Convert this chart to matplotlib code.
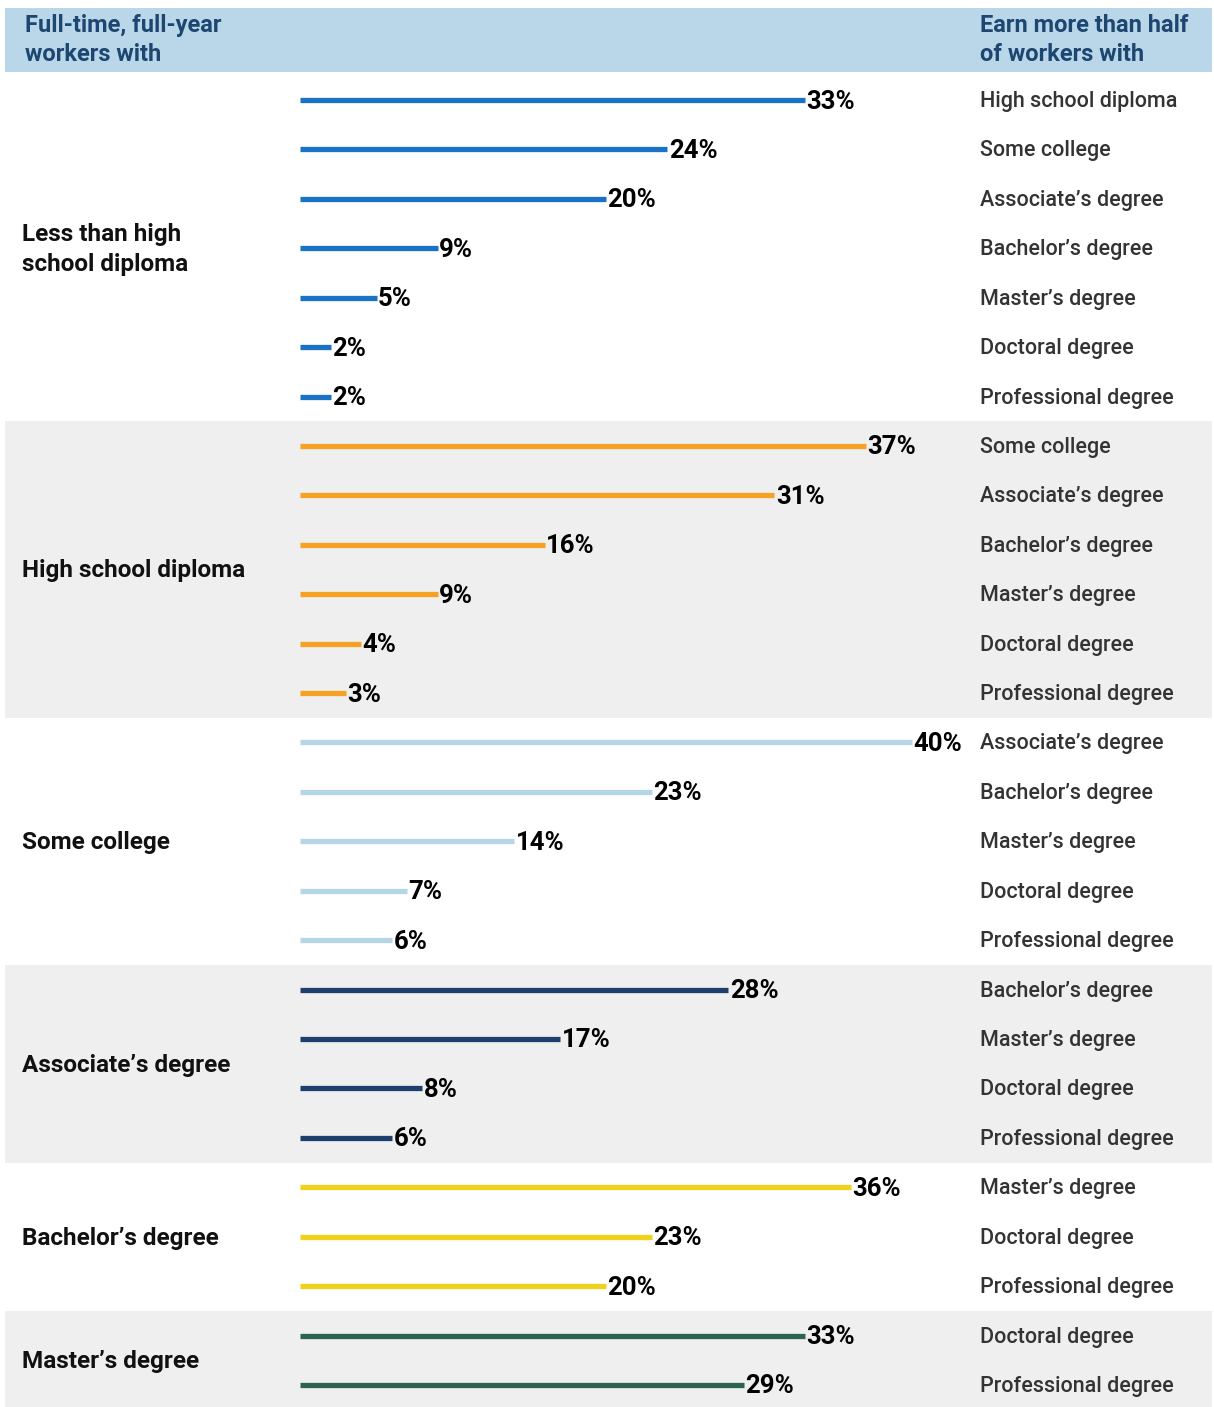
import matplotlib
matplotlib.use('Agg')
import matplotlib.pyplot as plt
import matplotlib.transforms as mtransforms

plt.rcParams['font.family'] = ['Roboto', 'DejaVu Sans']

# worker's own education -> share earning more than half of workers with higher degrees
groups = ['Less than high\nschool diploma', 'High school diploma', 'Some college',
          'Associate\u2019s degree', 'Bachelor\u2019s degree', 'Master\u2019s degree']
hs_less_cmp = ['High school diploma', 'Some college', 'Associate\u2019s degree',
               'Bachelor\u2019s degree', 'Master\u2019s degree', 'Doctoral degree',
               'Professional degree']
hs_less_pct = [33, 24, 20, 9, 5, 2, 2]
hs_cmp = ['Some college', 'Associate\u2019s degree', 'Bachelor\u2019s degree',
          'Master\u2019s degree', 'Doctoral degree', 'Professional degree']
hs_pct = [37, 31, 16, 9, 4, 3]
sc_cmp = ['Associate\u2019s degree', 'Bachelor\u2019s degree', 'Master\u2019s degree',
          'Doctoral degree', 'Professional degree']
sc_pct = [40, 23, 14, 7, 6]
assoc_cmp = ['Bachelor\u2019s degree', 'Master\u2019s degree', 'Doctoral degree',
             'Professional degree']
assoc_pct = [28, 17, 8, 6]
bach_cmp = ['Master\u2019s degree', 'Doctoral degree', 'Professional degree']
bach_pct = [36, 23, 20]
mast_cmp = ['Doctoral degree', 'Professional degree']
mast_pct = [33, 29]

comparisons = [hs_less_cmp, hs_cmp, sc_cmp, assoc_cmp, bach_cmp, mast_cmp]
values = [hs_less_pct, hs_pct, sc_pct, assoc_pct, bach_pct, mast_pct]
colors = ['#1a72c6', '#f5a224', '#b5d5e8', '#1e3f6d', '#f1d11c', '#2c6352']

W, H = 1214, 1407
fig = plt.figure(figsize=(W / 100, H / 100), dpi=100)
ax = fig.add_axes([0, 0, 1, 1])
ax.axis('off')

# x in percent (0 at px 300, 15.3 px per point), y in row units (row 0 at px 100)
px_per_pct = 15.3
row_h = 49.42
ax.set_xlim(-300 / px_per_pct, (W - 300) / px_per_pct)
ax.set_ylim((H - 100) / row_h, -100 / row_h)

mix = mtransforms.blended_transform_factory(ax.transAxes, ax.transData)
nudge = 1.5 / row_h  # push text down a touch so it sits on the bar line

# header band
ax.axhspan((8 - 100) / row_h, (72 - 100) / row_h, xmin=5 / W, xmax=1212 / W,
           color='#b9d7e9', lw=0, zorder=0)
hdr_y = (40 - 100) / row_h
ax.text(25 / W, hdr_y, 'Full-time, full-year\nworkers with', transform=mix,
        fontsize=17, fontweight='bold', color='#1d4670', va='center', ha='left',
        linespacing=1.3)
ax.text(980 / W, hdr_y, 'Earn more than half\nof workers with', transform=mix,
        fontsize=17, fontweight='bold', color='#1d4670', va='center', ha='left',
        linespacing=1.3)

row = 0
for g, (name, cmp, vals, col) in enumerate(zip(groups, comparisons, values, colors)):
    start = row
    end = row + len(vals) - 1
    if g % 2 == 1:
        ax.axhspan(start - 0.5, end + 0.5, xmin=5 / W, xmax=1212 / W,
                   color='#efefef', lw=0, zorder=0)
    ax.text(22 / W, (start + end) / 2 + nudge, name, transform=mix, fontsize=17.5,
            fontweight='bold', color='#111111', va='center', ha='left',
            linespacing=1.4)
    for lab, v in zip(cmp, vals):
        ax.plot([0, v], [row, row], color=col, lw=3.8, solid_capstyle='butt', zorder=2)
        ax.text(v + 0.1, row + nudge, '%d%%' % v, fontsize=18.5, fontweight='bold',
                color='#000000', va='center', ha='left')
        ax.text(980 / W, row + nudge, lab, transform=mix, fontsize=15.5,
                fontweight='medium', color='#333333', va='center', ha='left')
        row += 1

fig.savefig('out.png', dpi=100, facecolor='white')
